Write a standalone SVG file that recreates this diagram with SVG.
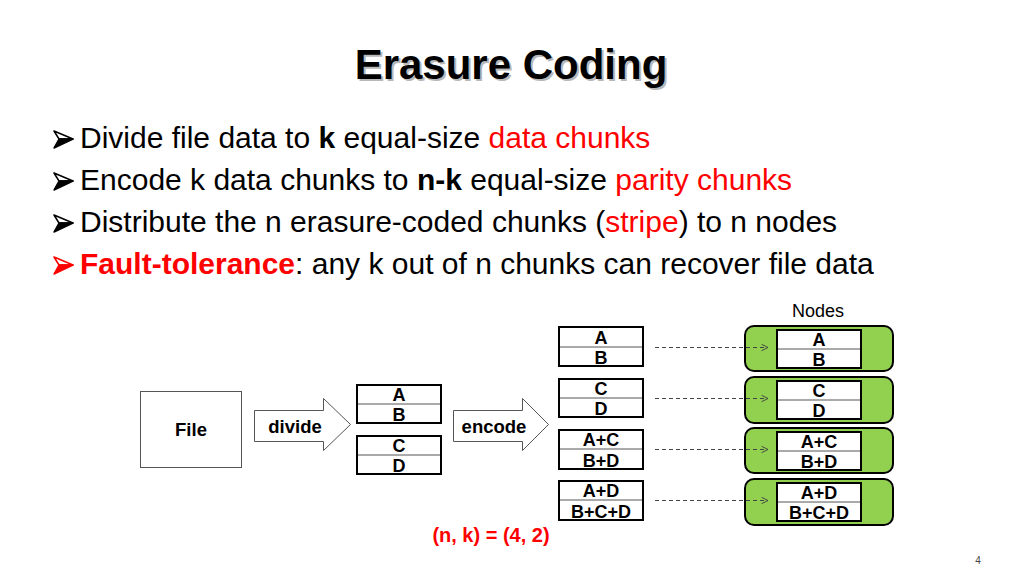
<svg xmlns="http://www.w3.org/2000/svg" width="1024" height="576" viewBox="0 0 1024 576">
<defs>
<style>
.t{font-family:"Liberation Sans",Arial,sans-serif}
.b{font-family:"Liberation Sans",Arial,sans-serif;font-weight:bold}
.bul{font-family:"Liberation Sans",Arial,sans-serif;font-size:30px;fill:#000}
.red{fill:#ff0000}
.bx{fill:#fff;stroke:#000;stroke-width:2}
.mid{stroke:#555;stroke-width:1}
.lbl{font-family:"Liberation Sans",Arial,sans-serif;font-weight:bold;font-size:18px;text-anchor:middle;fill:#000}
.node{fill:#92d050;stroke:#000;stroke-width:2}
.big{fill:#fff;stroke:#555;stroke-width:1}
.dash{stroke:#444;stroke-width:1;stroke-dasharray:4 3;fill:none;marker-end:url(#chev)}
</style>
<marker id="chev" viewBox="0 0 10 10" refX="9" refY="5" markerWidth="8" markerHeight="8" markerUnits="userSpaceOnUse" orient="auto">
<path d="M1,1 L9,5 L1,9" fill="none" stroke="#444" stroke-width="1.2"/>
</marker>
</defs>
<rect width="1024" height="576" fill="#fff"/>

<g id="title">
<text class="b" x="513" y="81" font-size="42" text-anchor="middle" fill="#b8b8b8">Erasure Coding</text>
<text class="b" x="511" y="79" font-size="42" text-anchor="middle" fill="#000">Erasure Coding</text>
</g>

<g id="bullets">
<g id="b1"><path d="M54,131 L73,139 L59,139 Z" fill="#fff" stroke="#000" stroke-width="1.5" stroke-linejoin="round"/><path d="M59,139 L73,139 L54,148 Z" fill="#000" stroke="#000" stroke-width="1.5" stroke-linejoin="round"/></g>
<g id="b2"><path d="M54,173 L73,181 L59,181 Z" fill="#fff" stroke="#000" stroke-width="1.5" stroke-linejoin="round"/><path d="M59,181 L73,181 L54,190 Z" fill="#000" stroke="#000" stroke-width="1.5" stroke-linejoin="round"/></g>
<g id="b3"><path d="M54,215 L73,223 L59,223 Z" fill="#fff" stroke="#000" stroke-width="1.5" stroke-linejoin="round"/><path d="M59,223 L73,223 L54,232 Z" fill="#000" stroke="#000" stroke-width="1.5" stroke-linejoin="round"/></g>
<g id="b4"><path d="M54,257 L73,265 L59,265 Z" fill="#fff" stroke="#f00" stroke-width="1.5" stroke-linejoin="round"/><path d="M59,265 L73,265 L54,274 Z" fill="#f00" stroke="#f00" stroke-width="1.5" stroke-linejoin="round"/></g>
<text class="bul" x="80" y="148">Divide file data to <tspan font-weight="bold">k</tspan> equal-size <tspan class="red">data chunks</tspan></text>
<text class="bul" x="80" y="190">Encode k data chunks to <tspan font-weight="bold">n-k</tspan> equal-size <tspan class="red">parity chunks</tspan></text>
<text class="bul" x="80" y="232">Distribute the n erasure-coded chunks (<tspan class="red">stripe</tspan>) to n nodes</text>
<text class="bul" x="80" y="274"><tspan class="red" font-weight="bold">Fault-tolerance</tspan>: any k out of n chunks can recover file data</text>
</g>

<g id="file">
<rect x="140.5" y="391.5" width="101" height="76" fill="#fff" stroke="#555" stroke-width="1"/>
<text class="b" x="191" y="436" font-size="18.5" text-anchor="middle">File</text>
</g>

<g id="divide">
<path class="big" d="M254.5,410.5 H323.5 V398.5 L350.5,424.5 L323.5,450.5 V441.5 H254.5 Z"/>
<text class="b" x="295" y="433" font-size="18.5" text-anchor="middle">divide</text>
</g>

<g id="encode">
<path class="big" d="M453.5,410.5 H522.5 V398.5 L548.5,424.5 L522.5,450.5 V441.5 H453.5 Z"/>
<text class="b" x="494" y="433" font-size="18.5" text-anchor="middle">encode</text>
</g>

<g id="chunkAB">
<rect class="bx" x="357" y="385" width="84" height="38"/><line class="mid" x1="358" y1="404" x2="440" y2="404"/>
<text class="lbl" x="399" y="401">A</text><text class="lbl" x="399" y="421">B</text>
</g>
<g id="chunkCD">
<rect class="bx" x="357" y="436" width="84" height="38"/><line class="mid" x1="358" y1="455" x2="440" y2="455"/>
<text class="lbl" x="399" y="452">C</text><text class="lbl" x="399" y="472">D</text>
</g>

<g id="stripe1">
<rect class="bx" x="559" y="327" width="84" height="39"/><line class="mid" x1="560" y1="347" x2="642" y2="347"/>
<text class="lbl" x="601" y="344">A</text><text class="lbl" x="601" y="364">B</text>
</g>
<g id="stripe2">
<rect class="bx" x="559" y="379" width="84" height="38"/><line class="mid" x1="560" y1="398" x2="642" y2="398"/>
<text class="lbl" x="601" y="395">C</text><text class="lbl" x="601" y="415">D</text>
</g>
<g id="stripe3">
<rect class="bx" x="559" y="430" width="84" height="39"/><line class="mid" x1="560" y1="449" x2="642" y2="449"/>
<text class="lbl" x="601" y="446">A+C</text><text class="lbl" x="601" y="467">B+D</text>
</g>
<g id="stripe4">
<rect class="bx" x="559" y="481" width="84" height="39"/><line class="mid" x1="560" y1="500" x2="642" y2="500"/>
<text class="lbl" x="601" y="497">A+D</text><text class="lbl" x="601" y="518">B+C+D</text>
</g>

<text class="t" x="818" y="317" font-size="18" text-anchor="middle">Nodes</text>

<g id="node1">
<rect class="node" x="745" y="326" width="148" height="45" rx="9"/>
<rect class="bx" x="777" y="330" width="84" height="38"/><line class="mid" x1="778" y1="349" x2="860" y2="349"/>
<text class="lbl" x="819" y="346">A</text><text class="lbl" x="819" y="366">B</text>
</g>
<g id="node2">
<rect class="node" x="745" y="377" width="148" height="46" rx="9"/>
<rect class="bx" x="777" y="381" width="84" height="38"/><line class="mid" x1="778" y1="400" x2="860" y2="400"/>
<text class="lbl" x="819" y="397">C</text><text class="lbl" x="819" y="417">D</text>
</g>
<g id="node3">
<rect class="node" x="745" y="428" width="148" height="45" rx="9"/>
<rect class="bx" x="777" y="432" width="84" height="38"/><line class="mid" x1="778" y1="451" x2="860" y2="451"/>
<text class="lbl" x="819" y="448">A+C</text><text class="lbl" x="819" y="468">B+D</text>
</g>
<g id="node4">
<rect class="node" x="745" y="479" width="148" height="46" rx="9"/>
<rect class="bx" x="777" y="483" width="84" height="38"/><line class="mid" x1="778" y1="502" x2="860" y2="502"/>
<text class="lbl" x="819" y="499">A+D</text><text class="lbl" x="819" y="519">B+C+D</text>
</g>

<g id="connectors">
<line class="dash" x1="655" y1="347.5" x2="768" y2="347.5"/>
<line class="dash" x1="655" y1="398.5" x2="768" y2="398.5"/>
<line class="dash" x1="655" y1="449.5" x2="768" y2="449.5"/>
<line class="dash" x1="655" y1="500.5" x2="768" y2="500.5"/>
</g>

<text class="b" x="491" y="542" font-size="20" text-anchor="middle" fill="#f00">(n, k) = (4, 2)</text>
<text class="t" x="978" y="564" font-size="10" text-anchor="middle" fill="#444">4</text>
</svg>
